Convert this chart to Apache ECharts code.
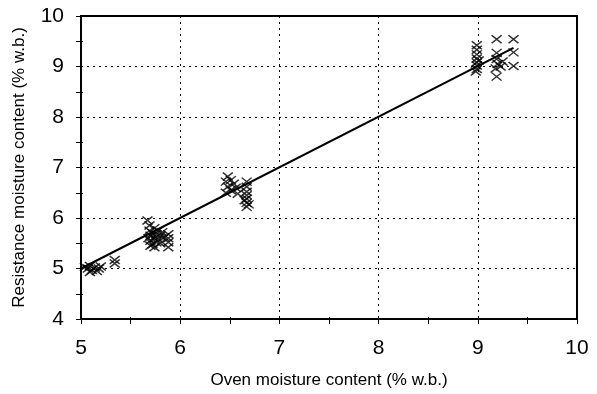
<!DOCTYPE html>
<html>
<head>
<meta charset="utf-8">
<script src="https://cdn.jsdelivr.net/npm/echarts@6/dist/echarts.min.js"></script>
<style>
  html, body {margin: 0; padding: 0; background: #fff;}
  #main {width: 597px; height: 394px;}
</style>
</head>
<body>
<div id="main"></div>
<script>
// oven vs resistance moisture content (% w.b.)
const cluster1 = [
  [5.04, 5.03], [5.07, 5.0], [5.09, 5.05], [5.11, 4.97], [5.14, 5.02], [5.16, 4.95],
  [5.18, 5.0], [5.09, 4.93], [5.2, 5.04], [5.34, 5.1], [5.34, 5.17]
];
const cluster2 = [
  [5.67, 5.95], [5.69, 5.85], [5.69, 5.75], [5.7, 5.65], [5.7, 5.55], [5.72, 5.48],
  [5.72, 5.7], [5.74, 5.6], [5.74, 5.8], [5.76, 5.52], [5.76, 5.68], [5.78, 5.75],
  [5.78, 5.58], [5.8, 5.65], [5.8, 5.5], [5.82, 5.72], [5.7, 5.45], [5.74, 5.42],
  [5.88, 5.68], [5.88, 5.6], [5.88, 5.52], [5.88, 5.42], [5.84, 5.62], [5.68, 5.6]
];
const cluster3 = [
  [6.48, 6.82], [6.46, 6.72], [6.48, 6.62], [6.51, 6.55], [6.46, 6.5], [6.54, 6.68],
  [6.56, 6.6], [6.51, 6.75], [6.58, 6.48],
  [6.67, 6.72], [6.67, 6.62], [6.67, 6.52], [6.67, 6.45], [6.67, 6.38], [6.67, 6.3],
  [6.67, 6.22], [6.65, 6.35], [6.69, 6.27]
];
const cluster4 = [
  [8.99, 9.42], [8.99, 9.33], [8.99, 9.24], [8.99, 9.16], [8.99, 9.08], [8.99, 9.02],
  [8.99, 8.95], [8.98, 8.9], [9.01, 9.12],
  [9.19, 9.54], [9.19, 9.27], [9.19, 9.15], [9.2, 9.05], [9.23, 9.0], [9.18, 8.96],
  [9.19, 8.8], [9.25, 9.1], [9.36, 9.54], [9.36, 9.28], [9.36, 9.01]
];
const fitLine = [[5.0, 5.0], [9.36, 9.37]];

const xTitle = 'Oven moisture content (% w.b.)';
const yTitle = 'Resistance moisture content (% w.b.)';

const points = cluster1.concat(cluster2, cluster3, cluster4);
const cross = 'path://M0,0L10,10M10,0L0,10';
const font = 'Liberation Sans, Arial, sans-serif';

const chart = echarts.init(document.getElementById('main'));

function axisBase(extra) {
  return Object.assign({
    type: 'value',
    axisLine: {show: true, onZero: false, lineStyle: {color: '#000', width: 2}},
    axisTick: {show: true, length: 5, lineStyle: {color: '#000', width: 1}},
    minorTick: {show: true, splitNumber: 2, length: 5, lineStyle: {color: '#000', width: 1}},
    splitLine: {show: true, lineStyle: {color: '#000', width: 1, type: [2, 4]}}
  }, extra);
}

chart.setOption({
  animation: false,
  backgroundColor: '#fff',
  grid: {
    left: 81, right: 20, top: 16, bottom: 66,
    show: true, borderColor: '#000', borderWidth: 2, backgroundColor: 'transparent'
  },
  xAxis: [
    axisBase({
      min: 5, max: 10, interval: 1,
      name: xTitle, nameLocation: 'middle', nameGap: 53,
      nameTextStyle: {color: '#000', fontSize: 17, fontFamily: font},
      axisLabel: {color: '#000', fontSize: 21, fontFamily: font, margin: 19}
    }),
    axisBase({
      min: 5, max: 10, interval: 1, position: 'bottom',
      axisTick: {show: true, inside: true, length: 2, lineStyle: {color: '#000'}},
      minorTick: {show: true, splitNumber: 2, length: 2, lineStyle: {color: '#000'}},
      axisLabel: {show: false}, splitLine: {show: false}
    })
  ],
  yAxis: [
    axisBase({
      min: 4, max: 10, interval: 1,
      name: yTitle, nameLocation: 'middle', nameGap: 53,
      nameTextStyle: {color: '#000', fontSize: 17, fontFamily: font},
      axisLabel: {color: '#000', fontSize: 21, fontFamily: font, margin: 17}
    }),
    axisBase({
      min: 4, max: 10, interval: 1, position: 'left',
      axisTick: {show: true, inside: true, length: 2, lineStyle: {color: '#000'}},
      minorTick: {show: true, splitNumber: 2, length: 2, lineStyle: {color: '#000'}},
      axisLabel: {show: false}, splitLine: {show: false}
    })
  ],
  series: [
    {
      type: 'scatter',
      data: points,
      symbol: cross,
      symbolSize: [10, 8],
      itemStyle: {color: 'none', borderColor: '#000', borderWidth: 1.5}
    },
    {
      type: 'line',
      data: fitLine,
      symbol: 'none',
      lineStyle: {color: '#000', width: 2}
    }
  ]
});
</script>
</body>
</html>
